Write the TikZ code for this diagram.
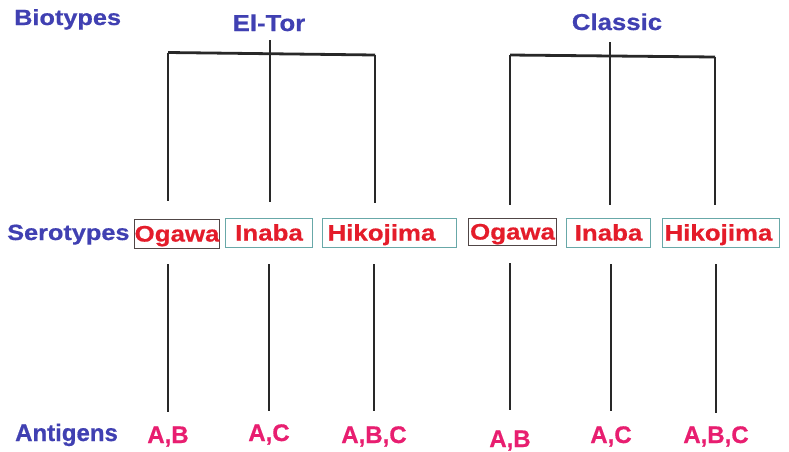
\documentclass[tikz,border=0pt]{standalone}
\usepackage{fontspec}
\setmainfont{Liberation Sans}[FakeBold=0.6]
\newfontfamily\widefont{Liberation Sans}[FakeStretch=1.15, FakeBold=0.6]
\newfontfamily\midfont{Liberation Sans}[FakeStretch=1.12, FakeBold=0.6]
\definecolor{headblue}{RGB}{64,64,178}
\definecolor{serored}{RGB}{228,28,42}
\definecolor{antired}{RGB}{232,30,112}
\definecolor{linegray}{RGB}{40,40,40}
\definecolor{boxdark}{RGB}{80,70,70}
\definecolor{boxteal}{RGB}{104,168,168}
\tikzset{
  heading/.style={inner sep=0pt, anchor=base west, text=headblue, font=\widefont\bfseries\fontsize{22}{24}\selectfont},
  biotype/.style={inner sep=0pt, anchor=base, text=headblue, font=\midfont\bfseries\fontsize{23}{25}\selectfont},
  antiglabel/.style={inner sep=0pt, anchor=base west, text=headblue, font=\bfseries\fontsize{24}{26}\selectfont},
  antigen/.style={inner sep=0pt, anchor=base, text=antired, font=\bfseries\fontsize{24}{26}\selectfont},
  serobox/.style={draw, line width=1.1pt, anchor=north west, inner xsep=0pt, inner ysep=4pt,
    text height=18pt, text depth=3pt, text=serored, align=center,
    font=\widefont\bfseries\fontsize{22.5}{24}\selectfont},
  bar/.style={draw=linegray, line width=2.8pt},
  stem/.style={draw=linegray, line width=1.5pt},
}
\begin{document}
\begin{tikzpicture}[x=1pt,y=-1pt]
\path[use as bounding box, fill=white] (0,0) rectangle (789,451);

% row labels
\node[heading] (biotypes) at (14,25) {Biotypes};
\node[heading] (serotypes) at (7,240) {Serotypes};
\node[antiglabel] (antigens) at (15,441) {Antigens};

% biotypes
\node[biotype] (eltor) at (269,31) {El-Tor};
\node[biotype] (classic) at (617,30) {Classic};

% bracket coordinates
\coordinate (l1) at (168,52.5);
\coordinate (l2) at (270,40);
\coordinate (l3) at (375,55);
\coordinate (r1) at (510,55);
\coordinate (r2) at (610,42);
\coordinate (r3) at (715,57);

% serotype boxes
\node[serobox, draw=boxdark, minimum width=85pt] (og1) at (134,219) {Ogawa};
\node[serobox, draw=boxteal, minimum width=87pt] (in1) at (225,218) {Inaba};
\node[serobox, draw=boxteal, text width=124pt, inner xsep=5pt, align=left] (hi1) at (322,218) {Hikojima};
\node[serobox, draw=boxdark, minimum width=88pt, inner ysep=3pt] (og2) at (468,218) {Ogawa};
\node[serobox, draw=boxteal, minimum width=84pt] (in2) at (566,218) {Inaba};
\node[serobox, draw=boxteal, text width=113pt, inner xsep=2pt, align=left] (hi2) at (662,218) {Hikojima};

% antigens
\node[antigen] (ab1) at (168,443) {A,B};
\node[antigen] (ac1) at (269,441) {A,C};
\node[antigen] (abc1) at (374,443) {A,B,C};
\node[antigen] (ab2) at (510,447) {A,B};
\node[antigen] (ac2) at (611,443) {A,C};
\node[antigen] (abc2) at (716,443) {A,B,C};

% El-Tor bracket
\draw[bar] (l1) -- (l3);
\draw[stem] (l1) -- ([yshift=18pt]l1 |- og1.north);
\draw[stem] (l2) -- ([yshift=16pt]l2 |- in1.north);
\draw[stem] (l3) -- ([yshift=15pt]l3 |- hi1.north);

% Classic bracket
\draw[bar] (r1) -- (r3);
\draw[stem] (r1) -- ([yshift=13pt]r1 |- og2.north);
\draw[stem] (r2) -- ([yshift=13pt]r2 |- in2.north);
\draw[stem] (r3) -- ([yshift=13pt]r3 |- hi2.north);

% lower stems
\draw[stem] ([yshift=-15pt]ab1.north |- og1.south) -- ([yshift=14pt]ab1.north);
\draw[stem, line width=2pt] ([yshift=-16pt]ac1.north |- in1.south) -- ([yshift=13pt]ac1.north);
\draw[stem] ([yshift=-16pt]abc1.north |- hi1.south) -- ([yshift=15pt]abc1.north);
\draw[stem] ([yshift=-17pt]ab2.north |- og2.south) -- ([yshift=20pt]ab2.north);
\draw[stem] ([yshift=-16pt]ac2.north |- in2.south) -- ([yshift=15pt]ac2.north);
\draw[stem, line width=2.4pt] ([yshift=-16pt]abc2.north |- hi2.south) -- ([yshift=13pt]abc2.north);
\end{tikzpicture}
\end{document}
